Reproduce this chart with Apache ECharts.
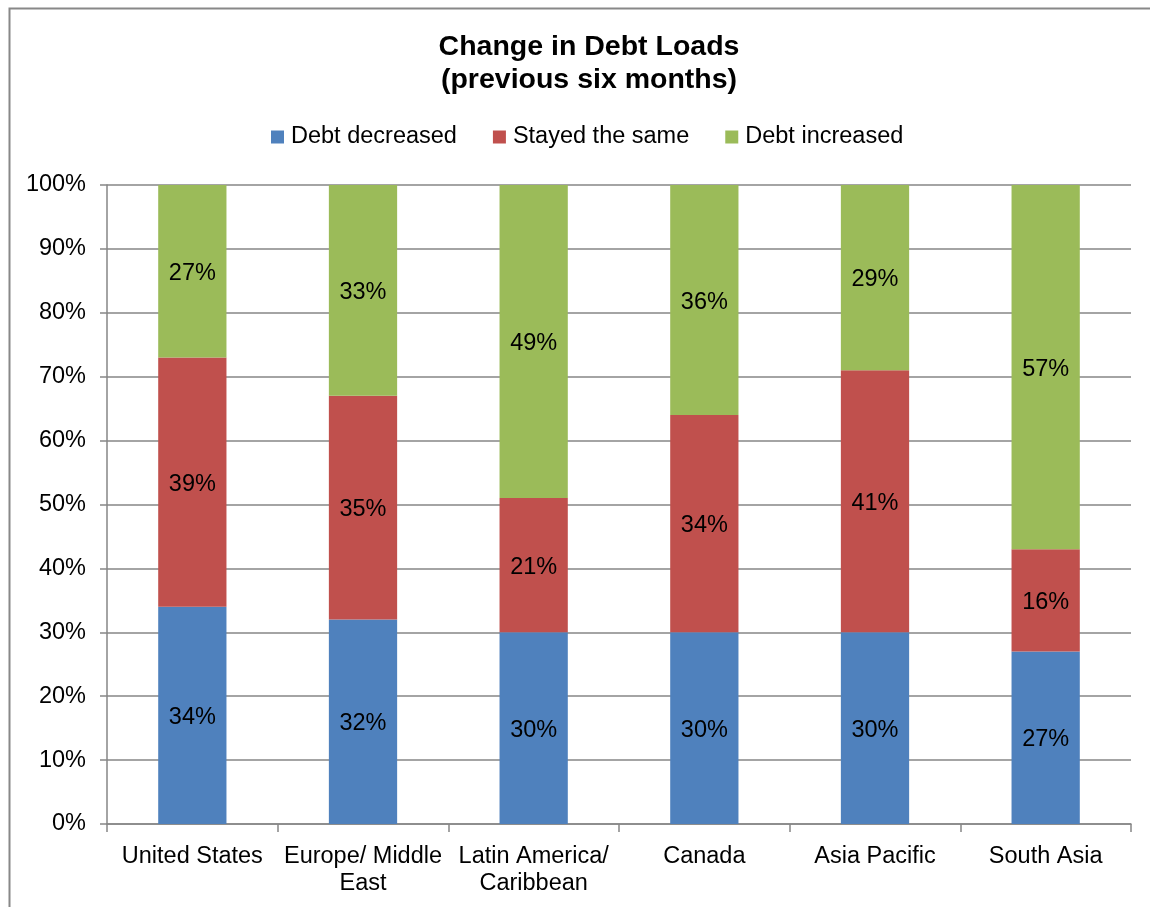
<!DOCTYPE html>
<html>
<head>
<meta charset="utf-8">
<script src="https://cdn.jsdelivr.net/npm/echarts@6/dist/echarts.min.js"></script>
<style>html,body{margin:0;padding:0;background:#fff;}#c{width:1150px;height:907px;}</style>
</head>
<body>
<div id="c"></div>
<script>
const categories = ['United States', 'Europe/ Middle\nEast', 'Latin America/\nCaribbean', 'Canada', 'Asia Pacific', 'South Asia'];
const debtDecreased = [34, 32, 30, 30, 30, 27];
const stayedSame = [39, 35, 21, 34, 41, 16];
const debtIncreased = [27, 33, 49, 36, 29, 57];
const yTicks = [0, 10, 20, 30, 40, 50, 60, 70, 80, 90, 100];

const font = 'Liberation Sans, Arial, sans-serif';
const fs = 23.5;
const chart = echarts.init(document.getElementById('c'), null, {renderer: 'canvas'});
function s(name, data, color) {
  return {
    name: name, type: 'bar', stack: 'total', data: data, barWidth: '40%',
    itemStyle: {color: color},
    label: {show: true, position: 'inside', offset: [0, 2], formatter: p => p.value + '%', color: '#000', fontSize: fs, fontFamily: font},
    emphasis: {disabled: true}
  };
}
chart.setOption({
  animation: false,
  backgroundColor: '#fff',
  graphic: [{type: 'rect', left: 7, top: 6, shape: {width: 1300, height: 1100}, style: {fill: 'none', stroke: '#888', lineWidth: 2}, silent: true}],
  title: {
    text: 'Change in Debt Loads\n(previous six months)', left: 584, textAlign: 'center', top: 26,
    textStyle: {fontSize: 28.5, fontWeight: 'bold', color: '#000', fontFamily: font, lineHeight: 33}
  },
  legend: {
    top: 120, left: 266, itemWidth: 13, itemHeight: 13, itemGap: 36, icon: 'rect',
    textStyle: {fontSize: fs, color: '#000', fontFamily: font, padding: [0,0,0,2]},
    data: ['Debt decreased', 'Stayed the same', 'Debt increased']
  },
  grid: {left: 107, right: 19, top: 185, bottom: 83, containLabel: false},
  xAxis: {
    type: 'category', data: categories,
    axisLine: {lineStyle: {color: '#868686', width: 1.5}},
    axisTick: {show: true, length: 8, lineStyle: {color: '#868686', width: 1.5}, alignWithLabel: false},
    axisLabel: {fontSize: fs, color: '#000', fontFamily: font, margin: 19, lineHeight: 27, interval: 0}
  },
  yAxis: {
    type: 'value', min: 0, max: 100, interval: 10,
    axisLine: {show: true, lineStyle: {color: '#868686', width: 1.5}},
    axisTick: {show: true, length: 7, lineStyle: {color: '#868686', width: 1.5}},
    splitLine: {lineStyle: {color: '#868686', width: 1.5}},
    axisLabel: {formatter: v => v + '%', fontSize: fs, color: '#000', fontFamily: font, margin: 21}
  },
  series: [
    s('Debt decreased', debtDecreased, '#4F81BD'),
    s('Stayed the same', stayedSame, '#C0504D'),
    s('Debt increased', debtIncreased, '#9BBB59')
  ]
});
</script>
</body>
</html>
